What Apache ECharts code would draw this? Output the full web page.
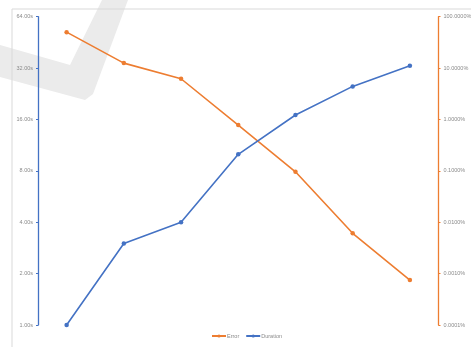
<!DOCTYPE html>
<html><head><meta charset="utf-8">
<script src="https://cdn.jsdelivr.net/npm/echarts@6/dist/echarts.min.js"></script>
<style>html,body{margin:0;padding:0;background:#fff}#c{width:471px;height:347px}</style>
</head><body><div id="c"></div>
<script>
const categories = ['1','2','3','4','5','6','7'];
const durationSeconds = [1.0, 3.0, 4.0, 10.0, 17.0, 25.0, 33.0];
const errorRate = [0.50, 0.125, 0.062, 0.0078, 0.00096, 0.000061, 0.0000075];
const durationTicks = [1, 2, 4, 8, 16, 32, 64];
const errorTicks = [0.000001, 0.00001, 0.0001, 0.001, 0.01, 0.1, 1];

const blue = '#4472C4', orange = '#ED7D31';
const chart = echarts.init(document.getElementById('c'), null, {renderer:'canvas'});
chart.setOption({
  animation:false,
  backgroundColor:'#fff',
  graphic:[
    {type:'polygon', z:-10, shape:{points:[[0,45],[70,65],[102,0],[128,0],[93,94],[85,100],[0,77]]}, style:{fill:'#ebebeb'}},
    {type:'polyline', z:-9, shape:{points:[[12,347],[12,9],[471,9]]}, style:{stroke:'#d9d9d9', lineWidth:1, fill:null}}
  ],
  grid:{left:38, right:32.5, top:16.7, bottom:22, containLabel:false, outerBoundsMode:'none'},
  legend:{
    data:['Error','Duration'], bottom:3, left:206,
    itemWidth:14, itemHeight:4, itemGap:6,
    textStyle:{fontSize:5.5, color:'#8a8a8a', fontFamily:'Liberation Sans', padding:[0,0,0,-4]}
  },
  xAxis:{type:'category', data:categories, boundaryGap:true,
    axisLine:{show:false}, axisTick:{show:false}, axisLabel:{show:false}, splitLine:{show:false}},
  yAxis:[
    {type:'log', logBase:2, min:durationTicks[0], max:durationTicks[durationTicks.length-1], interval:1, position:'left',
      axisLine:{show:true, lineStyle:{color:blue, width:1.3}},
      axisTick:{show:true, length:2, lineStyle:{color:blue}},
      splitLine:{show:false},
      axisLabel:{fontSize:5.5, color:'#8a8a8a', margin:5, fontFamily:'Liberation Sans',
        formatter:v=>Number(v).toFixed(2)+'s'}},
    {type:'log', logBase:10, min:errorTicks[0], max:errorTicks[errorTicks.length-1], interval:1, position:'right',
      axisLine:{show:true, lineStyle:{color:orange, width:1.3}},
      axisTick:{show:true, length:2, lineStyle:{color:orange}},
      splitLine:{show:false},
      axisLabel:{fontSize:5.5, color:'#8a8a8a', margin:5, fontFamily:'Liberation Sans',
        formatter:v=>(Number(v)*100).toFixed(4)+'%'}}
  ],
  series:[
    {name:'Error', type:'line', yAxisIndex:1, data:errorRate, color:orange,
      symbol:'circle', symbolSize:4.5, lineStyle:{width:1.6, color:orange}, itemStyle:{color:orange}},
    {name:'Duration', type:'line', yAxisIndex:0, data:durationSeconds, color:blue,
      symbol:'circle', symbolSize:4.5, lineStyle:{width:1.6, color:blue}, itemStyle:{color:blue}}
  ]
});
</script></body></html>
